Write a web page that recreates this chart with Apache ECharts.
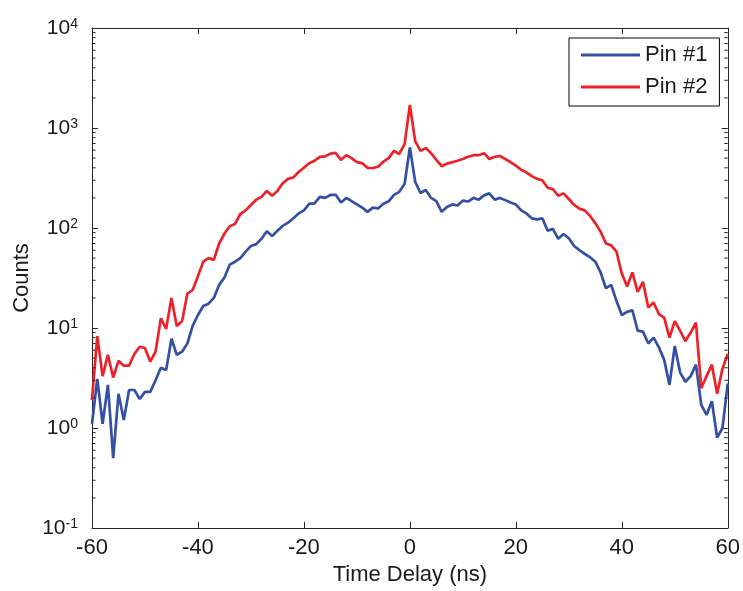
<!DOCTYPE html>
<html>
<head>
<meta charset="utf-8">
<script src="https://cdn.jsdelivr.net/npm/echarts@6/dist/echarts.min.js"></script>
<style>
html,body{margin:0;padding:0;background:#fff;}
#chart{width:743px;height:591px;}
</style>
</head>
<body>
<div id="chart"></div>
<script>
// Time delay (ns), 1 ns bins
var timeDelay = [];
for (var t = -60; t <= 60; t++) timeDelay.push(t);

var pin1 = [1.1,3.1,1.1,2.7,0.5,2.2,1.2,2.4,2.4,1.95,
  2.3,2.3,3.0,4.0,3.8,7.8,5.4,5.8,7.0,10.5,
  13.5,16.6,17.5,20,27,32,43,46,50,58,
  66,69,78,93,83,94,105,113,125,140,
  150,174,176,205,200,214,215,180,200,186,
  172,160,145,160,157,175,185,214,230,275,
  640,
  290,224,240,200,186,145,162,172,168,188,
  184,200,192,212,222,192,200,190,180,172,
  150,140,125,122,125,94,98,78,87,79,
  66,60,55,51,46,36,25,27,18.6,13.5,
  14.5,15,9.4,9.2,7,8,6.4,4.8,2.7,6.6,
  3.6,2.9,3.3,4.3,1.7,1.35,1.85,0.8,1.0,2.8];

var pin2 = [1.9,8.3,3.3,5.4,3.2,4.7,4.2,4.2,5.5,6.5,
  6.3,4.6,5.8,12.5,9.8,20,10.5,11.7,22,24,
  33,46,50,48,70,88,104,110,138,150,
  170,192,205,235,210,235,280,310,320,363,
  400,445,470,515,520,555,563,480,535,500,
  455,445,400,398,410,460,500,590,550,690,
  1700,
  740,590,630,560,480,415,440,455,470,490,
  515,535,535,560,490,515,525,490,455,420,
  382,360,330,310,300,253,245,210,222,195,
  170,156,150,132,112,92,70,67,58,35,
  26,36,23,29,16,18,13.8,12.7,8,11.7,
  9.4,7.4,9,11.3,2.5,3.3,4.3,2.2,3.9,5.5];

var seriesNames = ['Pin #1', 'Pin #2'];
var xTicks = [-60, -40, -20, 0, 20, 40, 60];
var yDecades = [-1, 0, 1, 2, 3, 4];
var minorTickValues = [];
for (var d = -1; d <= 3; d++) {
  for (var m = 2; m <= 9; m++) minorTickValues.push(m * Math.pow(10, d));
}

function zip(xs, ys) { return xs.map(function (x, i) { return [x, ys[i]]; }); }

var axisColor = '#262626';
var textColor = '#1a1a1a';
var FONT = '"Liberation Sans", Arial, sans-serif';
var blue = '#3350a4';
var red = '#ee2128';

var chart = echarts.init(document.getElementById('chart'), null, {renderer: 'canvas'});

function minorRender(params, api) {
  var cs = params.coordSys;
  var y = api.coord([0, api.value(0)])[1];
  return {
    type: 'group',
    children: [
      {type: 'line', shape: {x1: cs.x, y1: y, x2: cs.x + 3.5, y2: y}, style: {stroke: axisColor, lineWidth: 1}},
      {type: 'line', shape: {x1: cs.x + cs.width, y1: y, x2: cs.x + cs.width - 3.5, y2: y}, style: {stroke: axisColor, lineWidth: 1}}
    ]
  };
}

var option = {
  backgroundColor: '#fff',
  animation: false,
  textStyle: {fontFamily: FONT},
  grid: {left: 92, right: 15, top: 28, bottom: 63},
  legend: {
    data: seriesNames,
    orient: 'vertical',
    left: 569, top: 38,
    backgroundColor: '#fff',
    borderColor: '#000', borderWidth: 1,
    padding: [6, 12, 8, 12],
    icon: 'rect',
    itemWidth: 59, itemHeight: 3, itemGap: 10,
    textStyle: {fontSize: 22, color: textColor, fontFamily: FONT, lineHeight: 22}
  },
  xAxis: [{
    type: 'value', min: -60, max: 60, interval: 20,
    name: 'Time Delay (ns)', nameLocation: 'middle', nameGap: 31,
    nameTextStyle: {fontSize: 22, color: textColor, fontFamily: FONT},
    axisLine: {show: true, onZero: false, lineStyle: {color: axisColor, width: 1}},
    axisTick: {show: true, inside: true, length: 6, lineStyle: {color: axisColor}},
    axisLabel: {fontSize: 22, color: textColor, margin: 9, fontFamily: FONT},
    splitLine: {show: false}
  }, {
    type: 'value', min: -60, max: 60, interval: 20, position: 'top',
    axisLine: {show: true, onZero: false, lineStyle: {color: axisColor, width: 1}},
    axisTick: {show: true, inside: true, length: 6, lineStyle: {color: axisColor}},
    axisLabel: {show: false},
    splitLine: {show: false}
  }],
  yAxis: [{
    type: 'log', logBase: 10, min: 0.1, max: 10000, splitNumber: 5,
    name: 'Counts', nameLocation: 'middle', nameGap: 59, nameMoveOverlap: false,
    nameTextStyle: {fontSize: 22, color: textColor, fontFamily: FONT},
    axisLine: {show: true, onZero: false, lineStyle: {color: axisColor, width: 1}},
    axisTick: {show: true, inside: true, length: 6, lineStyle: {color: axisColor}},
    axisLabel: {
      margin: 14,
      formatter: function (v) {
        var e = Math.round(Math.log10(v));
        return '{b|10}{e|' + e + '}';
      },
      rich: {
        b: {fontSize: 21, color: textColor, lineHeight: 22, fontFamily: FONT, verticalAlign: 'middle'},
        e: {fontSize: 14, color: textColor, lineHeight: 14, fontFamily: FONT, verticalAlign: 'top'}
      }
    },
    splitLine: {show: false}
  }, {
    type: 'log', logBase: 10, min: 0.1, max: 10000, splitNumber: 5, position: 'right',
    axisLine: {show: true, onZero: false, lineStyle: {color: axisColor, width: 1}},
    axisTick: {show: true, inside: true, length: 6, lineStyle: {color: axisColor}},
    axisLabel: {show: false},
    splitLine: {show: false}
  }],
  series: [{
    name: seriesNames[0], type: 'line', xAxisIndex: 0, yAxisIndex: 0,
    data: zip(timeDelay, pin1), symbol: 'none',
    lineStyle: {color: blue, width: 2.7}, itemStyle: {color: blue}, z: 3
  }, {
    name: seriesNames[1], type: 'line', xAxisIndex: 0, yAxisIndex: 0,
    data: zip(timeDelay, pin2), symbol: 'none',
    lineStyle: {color: red, width: 2.7}, itemStyle: {color: red}, z: 2
  }, {
    name: 'minorTicks', type: 'custom', xAxisIndex: 0, yAxisIndex: 0,
    data: minorTickValues.map(function (v) { return [v]; }),
    encode: {y: 0},
    renderItem: minorRender, silent: true, z: 5
  }]
};
chart.setOption(option);
</script>
</body>
</html>
